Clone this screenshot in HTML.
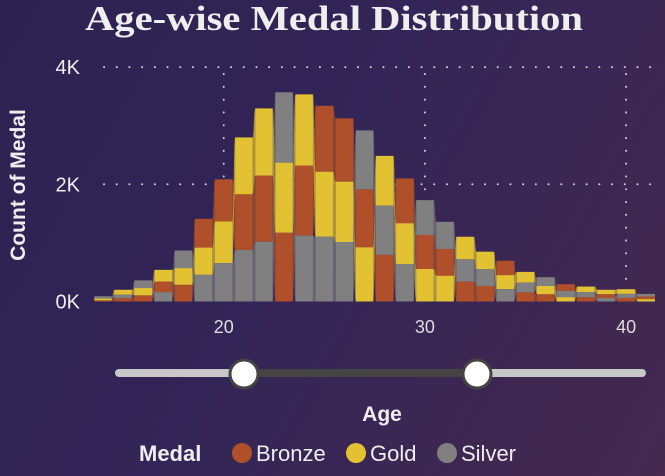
<!DOCTYPE html>
<html><head><meta charset="utf-8"><style>
html,body{margin:0;padding:0}
body{width:665px;height:476px;overflow:hidden;background:linear-gradient(120deg,#2c2250 0%,#332557 45%,#45294f 100%);font-family:"Liberation Sans",sans-serif}
svg{position:absolute;left:0;top:0}
</style></head><body>
<svg width="665" height="476">
<text x="334" y="30" text-anchor="middle" font-family="Liberation Serif" font-weight="bold" font-size="35" fill="#eeeeee" textLength="498" lengthAdjust="spacingAndGlyphs">Age-wise Medal Distribution</text>
<text transform="translate(25,185) rotate(-90)" text-anchor="middle" font-weight="bold" font-size="21" fill="#eeeeee">Count of Medal</text>
<g id="grid"></g>
<g id="ribbons"></g>
<g id="cols"></g>
<g id="ticks"></g>
<g>
<rect x="115" y="369" width="531" height="8" rx="4" fill="#c8c8c8"/>
<rect x="244" y="369" width="233" height="8" fill="#444"/>
<circle cx="244" cy="374" r="14" fill="#fff" stroke="#444" stroke-width="3"/>
<circle cx="477" cy="374" r="14" fill="#fff" stroke="#444" stroke-width="3"/>
</g>
<text x="382" y="421" text-anchor="middle" font-weight="bold" font-size="21" fill="#eeeeee">Age</text>
<g font-size="22" fill="#eeeeee">
<text x="139" y="461" font-weight="bold">Medal</text>
<g><circle cx="242" cy="453" r="10" fill="#B0502A"/><text x="256" y="461">Bronze</text></g>
<g><circle cx="356" cy="453" r="10" fill="#E2C232"/><text x="370" y="461">Gold</text></g>
<g><circle cx="447" cy="453" r="10" fill="#808080"/><text x="461" y="461">Silver</text></g>
</g>
</svg>
<script>
const ages=[14,15,16,17,18,19,20,21,22,23,24,25,26,27,28,29,30,31,32,33,34,35,36,37,38,39,40,41];
const bronze=[20,55,105,180,285,490,720,950,1130,1175,1195,1125,1080,990,795,765,580,455,340,265,245,155,125,115,75,65,60,45];
const gold=[30,85,125,200,285,465,710,970,1145,1195,1215,1110,1030,925,850,700,555,440,385,300,240,180,140,75,95,75,80,40];
const silver=[40,60,130,160,300,455,655,880,1020,1200,1125,1105,1015,1005,840,635,595,465,380,285,210,170,150,105,85,60,70,45];
const yTicks=[0,2000,4000];
const yTickLabels=['0K','2K','4K'];
const xTicks=[20,30,40];
const xTickLabels=['20','30','40'];

const NS='http://www.w3.org/2000/svg';
const X=a=>103+20.12*(a-14);
const Y=v=>301.5-v*0.0586;
const W=17.5;
const series=[{n:'bronze',c:'#B0502A',r:'#8f4a32',d:bronze},{n:'gold',c:'#E2C232',r:'#b9a23a',d:gold},{n:'silver',c:'#808080',r:'#6e6a78',d:silver}];
function mk(t,p,a){const e=document.createElementNS(NS,t);for(const k in a)e.setAttribute(k,a[k]);p.appendChild(e);return e;}
const grid=document.getElementById('grid'),rib=document.getElementById('ribbons'),cols=document.getElementById('cols'),tk=document.getElementById('ticks');
const stacks=ages.map((a,i)=>{const arr=series.map(s=>({s,v:s.d[i]})).sort((p,q)=>p.v-q.v);let acc=0;const m={};arr.forEach(o=>{m[o.s.n]={lo:acc,hi:acc+o.v};acc+=o.v;});return m;});
yTicks.forEach((v,i)=>{
 if(v>0){const l=mk('line',grid,{x1:104,x2:660,y1:Y(v),y2:Y(v),stroke:'#cfcfe0','stroke-width':2,'stroke-dasharray':'0.1 12.6','stroke-linecap':'round'});
 }
 const t=mk('text',tk,{x:80,y:Y(v)+7,'text-anchor':'end','font-size':20,fill:'#eeeeee'});t.textContent=yTickLabels[i];
 
});
xTicks.forEach((v,i)=>{
 const l=mk('line',grid,{x1:X(v),x2:X(v),y1:74,y2:300,stroke:'#cfcfe0','stroke-width':2,'stroke-dasharray':'0.1 12.7','stroke-linecap':'round'});
 
 const t=mk('text',tk,{x:X(v),y:333,'text-anchor':'middle','font-size':18,fill:'#dddddd'});t.textContent=xTickLabels[i];
 
});
for(let i=0;i<ages.length-1;i++){
 const x1=X(ages[i])+W/2,x2=X(ages[i+1])-W/2,xm=(x1+x2)/2;
 series.forEach(s=>{const a=stacks[i][s.n],b=stacks[i+1][s.n];
  const d=`M${x1},${Y(a.hi)} C${xm},${Y(a.hi)} ${xm},${Y(b.hi)} ${x2},${Y(b.hi)} L${x2},${Y(b.lo)} C${xm},${Y(b.lo)} ${xm},${Y(a.lo)} ${x1},${Y(a.lo)} Z`;
  const p=mk('path',rib,{d,fill:s.r,opacity:0.9});
  });
}
ages.forEach((a,i)=>{series.forEach(s=>{const st=stacks[i][s.n];
 const r=mk('rect',cols,{x:X(a)-W/2,y:Y(st.hi),width:W,height:Math.max(0,Y(st.lo)-Y(st.hi)),fill:s.c});
 });});
</script>
</body></html>
